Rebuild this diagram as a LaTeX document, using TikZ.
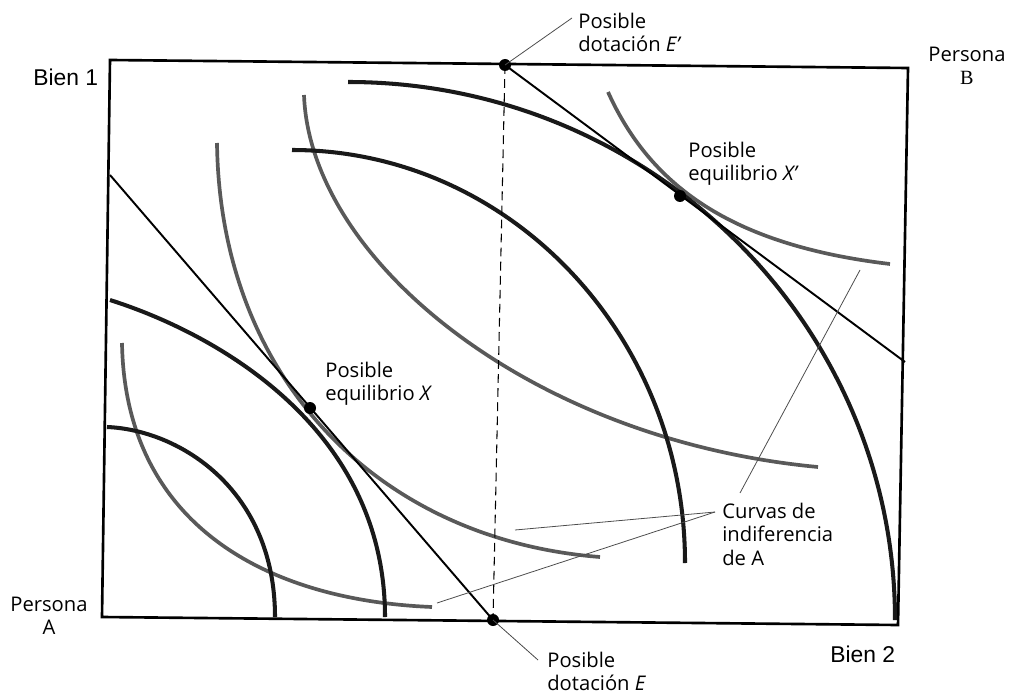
\documentclass[tikz,border=0pt]{standalone}
\usepackage{fontspec}
\setmainfont{Open Sans}
\newfontfamily\arialf{Liberation Sans}
\newfontfamily\serf{Liberation Serif}
\begin{document}
\begin{tikzpicture}[x=0.02cm,y=-0.02cm,
  box/.style={line width=1.5pt,line join=miter},
  bcurve/.style={line width=2.3pt,black!90},
  gcurve/.style={line width=2.1pt,black!65},
  budget/.style={line width=1.1pt},
  leader/.style={line width=0.45pt,black!70},
  dashline/.style={line width=0.6pt,dash pattern=on 5pt off 3pt},
  dot/.style={circle,fill=black,inner sep=0pt,minimum size=0.24cm},
  lbl/.style={font=\fontsize{11.5}{13.2}\selectfont,inner sep=0pt,align=left,anchor=north west},
  axl/.style={font=\arialf\fontsize{13}{15}\selectfont,inner sep=0pt,anchor=west}]
\useasboundingbox (0,0) rectangle (1010,699);
% Edgeworth box
\draw[box] (110,60) -- (908,68) -- (898,625) -- (102,617) -- cycle;
% indifference curves of A (grey)
\draw[gcurve] (122,343) .. controls (125,520) and (260,600) .. (432,607);
\draw[gcurve] (217,143) .. controls (220,380) and (380,540) .. (600,557);
\draw[gcurve] (304,95) .. controls (310,260) and (530,440) .. (818,467);
\draw[gcurve] (608,92) .. controls (650,185) and (730,245) .. (890,264);
% indifference curves of B (black)
\draw[bcurve] (107,427) .. controls (180,430) and (275,490) .. (275,617);
\draw[bcurve] (110,300) .. controls (220,335) and (385,430) .. (385,617);
\draw[bcurve] (292,150) .. controls (509,150) and (685,335) .. (685,563);
\draw[bcurve] (348,82) .. controls (650,82) and (895,323) .. (895,620);
% endowments and equilibria
\node[dot] (Ep) at (505,65) {};
\node[dot] (E) at (493,620) {};
\node[dot] (X) at (310,408) {};
\node[dot] (Xp) at (680,196) {};
\coordinate (bl1) at (110,175);
\coordinate (br2) at (905,362);
\draw[dashline] (Ep.center) -- (E.center);
\draw[budget] (bl1) -- (E.center);
\draw[budget] (Ep.center) -- (br2);
% labels
\node[lbl] (lEp) at (578,13) {Posible\\dotación \textit{E'}};
\node[lbl] (lXp) at (688,142) {Posible\\equilibrio \textit{X'}};
\node[lbl] (lX) at (325,362) {Posible\\equilibrio \textit{X}};
\node[lbl] (lE) at (547,652) {Posible\\dotación \textit{E}};
\node[lbl] (lC) at (722,503) {Curvas de\\indiferencia\\de A};
\node[lbl,align=center] (lB) at (928,47) {Persona\\{\serf B}};
\node[lbl,align=center] (lA) at (10,597) {Persona\\A};
\node[axl] (b1) at (33,77) {Bien 1};
\node[axl] (b2) at (830,654) {Bien 2};
% leaders
\coordinate (lEpEnd) at (572,18);
\coordinate (lEEnd) at (538,660);
\coordinate (cA) at (715,512);
\coordinate (cB) at (740,493);
\coordinate (g1) at (437,603);
\coordinate (g2) at (515,530);
\coordinate (g4) at (860,270);
\draw[leader] (lEpEnd) -- (Ep.center);
\draw[leader] (lEEnd) -- (E.center);
\draw[leader] (cA) -- (g2);
\draw[leader] (cA) -- (g1);
\draw[leader] (cB) -- (g4);
\end{tikzpicture}
\end{document}
